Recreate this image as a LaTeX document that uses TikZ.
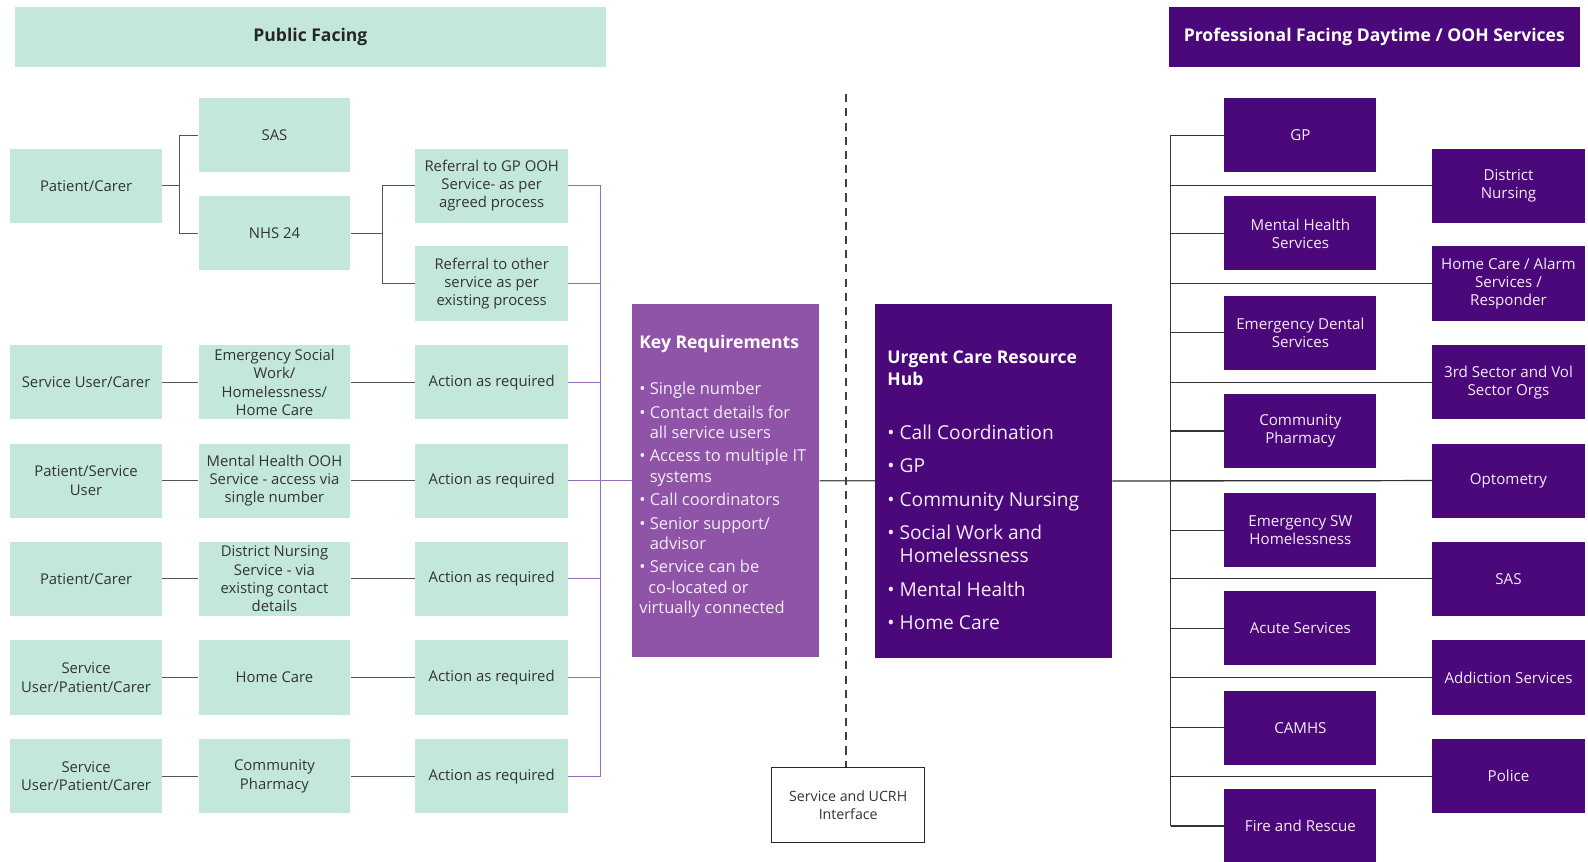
\documentclass[tikz,border=0pt]{standalone}
\usepackage{fontspec}
\setmainfont{Open Sans}
\definecolor{mint}{HTML}{C3E8DA}
\definecolor{dpurple}{HTML}{4A087A}
\definecolor{mpurple}{HTML}{8F54A8}
\definecolor{lpurple}{HTML}{9A6CB8}
\definecolor{tgray}{HTML}{333333}
\definecolor{lgray}{HTML}{555555}
\definecolor{ptext}{HTML}{F4ECF8}
\tikzset{
 mintbox/.style={fill=mint, text=tgray, align=center, inner sep=0pt, font=\fontsize{11}{13.5}\selectfont},
 purplebox/.style={fill=dpurple, text=ptext, align=center, inner sep=0pt, font=\fontsize{11.2}{13.5}\selectfont},
 gline/.style={draw=lgray, line width=0.9pt},
 pline/.style={draw=lpurple, line width=0.9pt},
 dline/.style={draw=black!80, line width=0.9pt},
 dashline/.style={draw=black!75, line width=1.3pt, dash pattern=on 6pt off 4.5pt},
}
\newcommand\bx[7]{%
 \node[#6, minimum width={(#4-#2)*0.75pt}, minimum height={(#5-#3)*0.75pt}] (#1) at ({(#2+#4)/2},{(#3+#5)/2}) {#7};}
\begin{document}
\begin{tikzpicture}[x=0.75pt,y=-0.75pt]
\useasboundingbox (0,0) rectangle (1568,851);
\fill[white] (0,0) rectangle (1568,851);
% headers
\bx{hpub}{15}{7}{598}{66}{mintbox,text=black!85,font=\bfseries\fontsize{13}{15}\selectfont}{Public Facing}
\bx{hpro}{1154}{7}{1560}{66}{purplebox,text=white,font=\bfseries\fontsize{13}{15}\selectfont}{Professional Facing Daytime / OOH Services}
% left side
\bx{pc1}{10}{147}{160}{220}{mintbox}{Patient/Carer}
\bx{sas}{196}{97}{346}{170}{mintbox}{SAS}
\bx{nhs}{196}{194}{346}{267}{mintbox}{NHS 24}
\bx{c1}{410}{147}{561}{220}{mintbox}{Referral to GP OOH\\Service- as per\\agreed process}
\bx{c2}{410}{243}{561}{317}{mintbox}{Referral to other\\service as per\\existing process}
\bx{a3}{10}{341}{160}{414}{mintbox}{Service User/Carer}
\bx{b3}{196}{341}{346}{414}{mintbox}{Emergency Social\\Work/\\Homelessness/\\Home Care}
\bx{c3}{410}{341}{561}{414}{mintbox}{Action as required}
\bx{a4}{10}{438}{160}{511}{mintbox}{Patient/Service\\User}
\bx{b4}{196}{438}{346}{511}{mintbox}{Mental Health OOH\\Service - access via\\single number}
\bx{c4}{410}{438}{561}{511}{mintbox}{Action as required}
\bx{a5}{10}{535}{160}{608}{mintbox}{Patient/Carer}
\bx{b5}{196}{535}{346}{608}{mintbox}{District Nursing\\Service - via\\existing contact\\details}
\bx{c5}{410}{535}{561}{608}{mintbox}{Action as required}
\bx{a6}{10}{632}{160}{706}{mintbox}{Service\\User/Patient/Carer}
\bx{b6}{196}{632}{346}{706}{mintbox}{Home Care}
\bx{c6}{410}{632}{561}{706}{mintbox}{Action as required}
\bx{a7}{10}{730}{160}{803}{mintbox}{Service\\User/Patient/Carer}
\bx{b7}{196}{730}{346}{803}{mintbox}{Community\\Pharmacy}
\bx{c7}{410}{730}{561}{803}{mintbox}{Action as required}
% centre
\bx{kr}{624}{300}{809}{649}{fill=mpurple, inner sep=0pt}{}
\bx{uc}{864}{300}{1098}{650}{fill=dpurple, inner sep=0pt}{}
\bx{sui}{762}{758}{913}{832}{draw=black!85, line width=0.9pt, fill=white, text=tgray, align=center, inner sep=0pt, font=\fontsize{10.5}{13.5}\selectfont}{Service and UCRH\\Interface}
\node[anchor=west, inner sep=0pt, text=white, font=\bfseries\fontsize{13}{15}\selectfont] (krt) at (631,340) {Key Requirements};
\node[anchor=north west, inner sep=0pt, align=left, text=ptext, font=\fontsize{12.2}{15}\selectfont] (krl) at (631,377) {%
\textbullet\ Single number\\[2.4pt]
\textbullet\ Contact details for\\
\phantom{\textbullet\ }all service users\\[2.4pt]
\textbullet\ Access to multiple IT\\
\phantom{\textbullet\ }systems\\[2.4pt]
\textbullet\ Call coordinators\\[2.4pt]
\textbullet\ Senior support/\\
\phantom{\textbullet\ }advisor\\[2.4pt]
\textbullet\ Service can be\\
\phantom{\textbullet}\,co-located or\\
virtually connected};
\node[anchor=north west, inner sep=0pt, align=left, text=white, font=\bfseries\fontsize{13}{16.5}\selectfont] (uct) at (876,346) {Urgent Care Resource\\Hub};
\node[anchor=north west, inner sep=0pt, align=left, text=ptext, font=\fontsize{14.2}{17.25}\selectfont] (ucl) at (876,419) {%
\textbullet\ Call Coordination\\[7.5pt]
\textbullet\ GP\\[7.5pt]
\textbullet\ Community Nursing\\[7.5pt]
\textbullet\ Social Work and\\
\phantom{\textbullet\ }Homelessness\\[7.5pt]
\textbullet\ Mental Health\\[7.5pt]
\textbullet\ Home Care};
% right side
\bx{d1}{1209}{97}{1359}{170}{purplebox}{GP}
\bx{d2}{1209}{194}{1359}{267}{purplebox}{Mental Health\\Services}
\bx{d3}{1209}{292}{1359}{365}{purplebox}{Emergency Dental\\Services}
\bx{d4}{1209}{389}{1359}{462}{purplebox}{Community\\Pharmacy}
\bx{d5}{1209}{487}{1359}{560}{purplebox}{Emergency SW\\Homelessness}
\bx{d6}{1209}{584}{1359}{657}{purplebox}{Acute Services}
\bx{d7}{1209}{682}{1359}{755}{purplebox}{CAMHS}
\bx{d8}{1209}{779}{1359}{852}{purplebox}{Fire and Rescue}
\bx{e1}{1414}{147}{1565}{220}{purplebox}{District\\Nursing}
\bx{e2}{1414}{243}{1565}{317}{purplebox}{Home Care / Alarm\\Services /\\Responder}
\bx{e3}{1414}{341}{1565}{414}{purplebox}{3rd Sector and Vol\\Sector Orgs}
\bx{e4}{1414}{438}{1565}{511}{purplebox}{Optometry}
\bx{e5}{1414}{535}{1565}{608}{purplebox}{SAS}
\bx{e6}{1414}{632}{1565}{706}{purplebox}{Addiction Services}
\bx{e7}{1414}{730}{1565}{803}{purplebox}{Police}
% junction coordinates
\coordinate (j1) at (177,0);
\coordinate (j2) at (378,0);
\coordinate (pb) at (593,0);
\coordinate (rb) at (1156,0);
\coordinate (dtop) at (835,93);
% left connectors
\draw[gline] (pc1.east) -- (pc1.east -| j1);
\draw[gline] (sas.west) -- (sas.west -| j1) -- (nhs.west -| j1) -- (nhs.west);
\draw[gline] (nhs.east) -- (nhs.east -| j2);
\draw[gline] (c1.west) -- (c1.west -| j2) -- (c2.west -| j2) -- (c2.west);
\foreach \r in {3,...,7}{
  \draw[gline] (a\r) -- (b\r);
  \draw[gline] (b\r) -- (c\r);
}
\foreach \r in {1,...,7}{
  \draw[pline] (c\r.east) -- (c\r.east -| pb);
}
\draw[pline] (c1.east -| pb) -- (c7.east -| pb);
\draw[pline] (c4.east -| pb) -- (kr.west);
% centre connectors
\draw[gline] (kr) -- (uc);
\draw[dashline] (dtop) -- (dtop |- sui.north);
% right connectors
\draw[dline] (uc.east) -- (e4.west);
\draw[dline] (d1.west -| rb) -- (d8.west -| rb);
\foreach \r in {1,...,8}{
  \draw[dline] (d\r.west) -- (d\r.west -| rb);
}
\foreach \r in {1,...,7}{
  \draw[dline] (e\r.west) -- (e\r.west -| rb);
}
\end{tikzpicture}
\end{document}
